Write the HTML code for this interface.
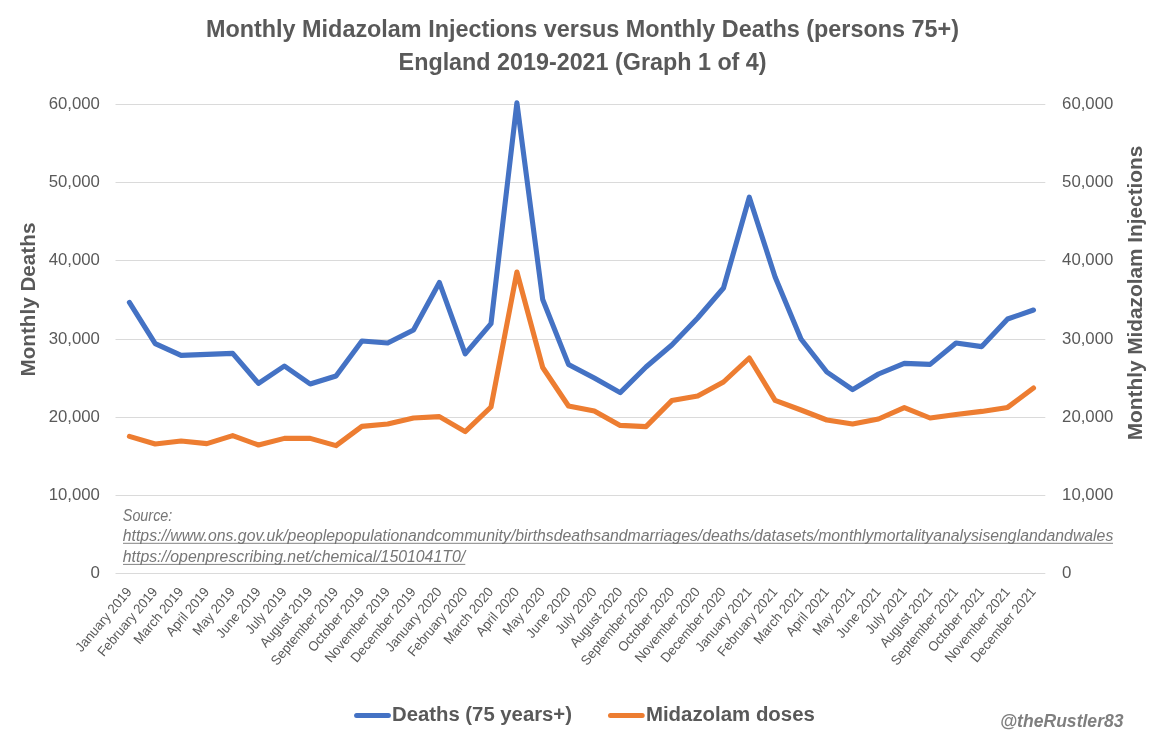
<!DOCTYPE html>
<html lang="en"><head><meta charset="utf-8"><title>Monthly Midazolam Injections versus Monthly Deaths</title>
<style>html,body{margin:0;padding:0;background:#fff}svg{display:block;will-change:transform}text{font-family:"Liberation Sans",sans-serif}</style></head><body>
<svg width="1163" height="735" viewBox="0 0 1163 735">
<rect width="1163" height="735" fill="#fff"/>
<line x1="115.5" x2="1045.3" y1="104.5" y2="104.5" stroke="#dadada" stroke-width="1"/>
<line x1="115.5" x2="1045.3" y1="182.5" y2="182.5" stroke="#dadada" stroke-width="1"/>
<line x1="115.5" x2="1045.3" y1="260.5" y2="260.5" stroke="#dadada" stroke-width="1"/>
<line x1="115.5" x2="1045.3" y1="339.5" y2="339.5" stroke="#dadada" stroke-width="1"/>
<line x1="115.5" x2="1045.3" y1="417.5" y2="417.5" stroke="#dadada" stroke-width="1"/>
<line x1="115.5" x2="1045.3" y1="495.5" y2="495.5" stroke="#dadada" stroke-width="1"/>
<line x1="115.5" x2="1045.3" y1="573.5" y2="573.5" stroke="#dadada" stroke-width="1"/>
<g fill="#595959" font-weight="bold" font-size="24.6">
<text id="t1" x="206" y="36.7" textLength="753" lengthAdjust="spacingAndGlyphs">Monthly Midazolam Injections versus Monthly Deaths (persons 75+)</text>
<text id="t2" x="398.6" y="69.8" textLength="368" lengthAdjust="spacingAndGlyphs">England 2019-2021 (Graph 1 of 4)</text>
</g>
<g fill="#595959" font-size="16.3">
<text x="48.7" y="109.0" textLength="51.2" lengthAdjust="spacingAndGlyphs">60,000</text>
<text x="1062.1" y="109.0" textLength="51.2" lengthAdjust="spacingAndGlyphs">60,000</text>
<text x="48.7" y="187.0" textLength="51.2" lengthAdjust="spacingAndGlyphs">50,000</text>
<text x="1062.1" y="187.0" textLength="51.2" lengthAdjust="spacingAndGlyphs">50,000</text>
<text x="48.7" y="265.0" textLength="51.2" lengthAdjust="spacingAndGlyphs">40,000</text>
<text x="1062.1" y="265.0" textLength="51.2" lengthAdjust="spacingAndGlyphs">40,000</text>
<text x="48.7" y="344.0" textLength="51.2" lengthAdjust="spacingAndGlyphs">30,000</text>
<text x="1062.1" y="344.0" textLength="51.2" lengthAdjust="spacingAndGlyphs">30,000</text>
<text x="48.7" y="422.0" textLength="51.2" lengthAdjust="spacingAndGlyphs">20,000</text>
<text x="1062.1" y="422.0" textLength="51.2" lengthAdjust="spacingAndGlyphs">20,000</text>
<text x="48.7" y="500.0" textLength="51.2" lengthAdjust="spacingAndGlyphs">10,000</text>
<text x="1062.1" y="500.0" textLength="51.2" lengthAdjust="spacingAndGlyphs">10,000</text>
<text x="90.5" y="578.0" textLength="9.4" lengthAdjust="spacingAndGlyphs">0</text>
<text x="1062.1" y="578.0" textLength="9.4" lengthAdjust="spacingAndGlyphs">0</text>
</g>
<g fill="#595959" font-weight="bold" font-size="21">
<text id="ayl" transform="translate(35.1,376.6) rotate(-90)" textLength="154" lengthAdjust="spacingAndGlyphs">Monthly Deaths</text>
<text id="ayr" transform="translate(1142.1,440.2) rotate(-90)" textLength="294.5" lengthAdjust="spacingAndGlyphs">Monthly Midazolam Injections</text>
</g>
<g fill="#595959" font-size="13.6" text-anchor="end">
<text transform="translate(132.4,592.2) rotate(-50) scale(0.96,1)">January 2019</text>
<text transform="translate(158.2,592.2) rotate(-50) scale(0.96,1)">February 2019</text>
<text transform="translate(184.1,592.2) rotate(-50) scale(0.96,1)">March 2019</text>
<text transform="translate(209.9,592.2) rotate(-50) scale(0.96,1)">April 2019</text>
<text transform="translate(235.7,592.2) rotate(-50) scale(0.96,1)">May 2019</text>
<text transform="translate(261.5,592.2) rotate(-50) scale(0.96,1)">June 2019</text>
<text transform="translate(287.4,592.2) rotate(-50) scale(0.96,1)">July 2019</text>
<text transform="translate(313.2,592.2) rotate(-50) scale(0.96,1)">August 2019</text>
<text transform="translate(339.0,592.2) rotate(-50) scale(0.96,1)">September 2019</text>
<text transform="translate(364.9,592.2) rotate(-50) scale(0.96,1)">October 2019</text>
<text transform="translate(390.7,592.2) rotate(-50) scale(0.96,1)">November 2019</text>
<text transform="translate(416.5,592.2) rotate(-50) scale(0.96,1)">December 2019</text>
<text transform="translate(442.4,592.2) rotate(-50) scale(0.96,1)">January 2020</text>
<text transform="translate(468.2,592.2) rotate(-50) scale(0.96,1)">February 2020</text>
<text transform="translate(494.0,592.2) rotate(-50) scale(0.96,1)">March 2020</text>
<text transform="translate(519.9,592.2) rotate(-50) scale(0.96,1)">April 2020</text>
<text transform="translate(545.7,592.2) rotate(-50) scale(0.96,1)">May 2020</text>
<text transform="translate(571.5,592.2) rotate(-50) scale(0.96,1)">June 2020</text>
<text transform="translate(597.3,592.2) rotate(-50) scale(0.96,1)">July 2020</text>
<text transform="translate(623.2,592.2) rotate(-50) scale(0.96,1)">August 2020</text>
<text transform="translate(649.0,592.2) rotate(-50) scale(0.96,1)">September 2020</text>
<text transform="translate(674.8,592.2) rotate(-50) scale(0.96,1)">October 2020</text>
<text transform="translate(700.7,592.2) rotate(-50) scale(0.96,1)">November 2020</text>
<text transform="translate(726.5,592.2) rotate(-50) scale(0.96,1)">December 2020</text>
<text transform="translate(752.3,592.2) rotate(-50) scale(0.96,1)">January 2021</text>
<text transform="translate(778.1,592.2) rotate(-50) scale(0.96,1)">February 2021</text>
<text transform="translate(804.0,592.2) rotate(-50) scale(0.96,1)">March 2021</text>
<text transform="translate(829.8,592.2) rotate(-50) scale(0.96,1)">April 2021</text>
<text transform="translate(855.6,592.2) rotate(-50) scale(0.96,1)">May 2021</text>
<text transform="translate(881.5,592.2) rotate(-50) scale(0.96,1)">June 2021</text>
<text transform="translate(907.3,592.2) rotate(-50) scale(0.96,1)">July 2021</text>
<text transform="translate(933.1,592.2) rotate(-50) scale(0.96,1)">August 2021</text>
<text transform="translate(959.0,592.2) rotate(-50) scale(0.96,1)">September 2021</text>
<text transform="translate(984.8,592.2) rotate(-50) scale(0.96,1)">October 2021</text>
<text transform="translate(1010.6,592.2) rotate(-50) scale(0.96,1)">November 2021</text>
<text transform="translate(1036.5,592.2) rotate(-50) scale(0.96,1)">December 2021</text>
</g>
<g fill="#767676" font-style="italic" font-size="15.8">
<text x="122.8" y="520.5" textLength="49.5" lengthAdjust="spacingAndGlyphs">Source:</text>
<text x="122.8" y="540.6" textLength="990.5" lengthAdjust="spacingAndGlyphs">https://www.ons.gov.uk/peoplepopulationandcommunity/birthsdeathsandmarriages/deaths/datasets/monthlymortalityanalysisenglandandwales</text>
<text x="122.8" y="561.7" textLength="342.3" lengthAdjust="spacingAndGlyphs">https://openprescribing.net/chemical/1501041T0/</text>
</g>
<line x1="123" x2="1113" y1="543.3" y2="543.3" stroke="#767676" stroke-width="0.9"/>
<line x1="123" x2="465.3" y1="564.4" y2="564.4" stroke="#767676" stroke-width="0.9"/>
<polyline points="129.4,302.4 155.2,343.6 181.1,355.4 206.9,354.4 232.7,353.4 258.5,383.4 284.4,366.0 310.2,384.0 336.0,376.0 361.9,341.0 387.7,343.0 413.5,330.0 439.4,282.5 465.2,353.8 491.0,323.6 516.9,102.9 542.7,299.5 568.5,364.4 594.3,378.0 620.2,392.6 646.0,367.0 671.8,345.0 697.7,318.0 723.5,288.0 749.3,197.2 775.1,277.0 801.0,339.0 826.8,372.0 852.6,389.6 878.5,374.0 904.3,363.4 930.1,364.4 956.0,343.0 981.8,346.6 1007.6,319.0 1033.5,310.0" fill="none" stroke="#4472c4" stroke-width="5.1" stroke-linecap="round" stroke-linejoin="round"/>
<polyline points="129.4,436.4 155.2,444.0 181.1,441.0 206.9,443.6 232.7,435.6 258.5,445.0 284.4,438.4 310.2,438.4 336.0,445.6 361.9,426.4 387.7,424.0 413.5,418.0 439.4,416.6 465.2,431.6 491.0,407.0 516.9,272.0 542.7,367.5 568.5,406.0 594.3,411.0 620.2,425.4 646.0,426.6 671.8,400.6 697.7,396.0 723.5,382.0 749.3,358.0 775.1,400.4 801.0,410.0 826.8,420.0 852.6,424.0 878.5,419.0 904.3,407.6 930.1,418.0 956.0,414.5 981.8,411.4 1007.6,407.4 1033.5,388.0" fill="none" stroke="#ed7d31" stroke-width="5.1" stroke-linecap="round" stroke-linejoin="round"/>
<line x1="356.6" x2="388.4" y1="715.6" y2="715.6" stroke="#4472c4" stroke-width="5" stroke-linecap="round"/>
<line x1="610.5" x2="642.2" y1="715.6" y2="715.6" stroke="#ed7d31" stroke-width="5" stroke-linecap="round"/>
<g fill="#595959" font-weight="bold" font-size="20.9">
<text x="392" y="721.4" textLength="180" lengthAdjust="spacingAndGlyphs">Deaths (75 years+)</text>
<text x="645.9" y="721.4" textLength="169" lengthAdjust="spacingAndGlyphs">Midazolam doses</text>
</g>
<text x="1000" y="726.8" fill="#7f7f7f" font-weight="bold" font-style="italic" font-size="17.6" textLength="123.5" lengthAdjust="spacingAndGlyphs">@theRustler83</text>
</svg></body></html>
